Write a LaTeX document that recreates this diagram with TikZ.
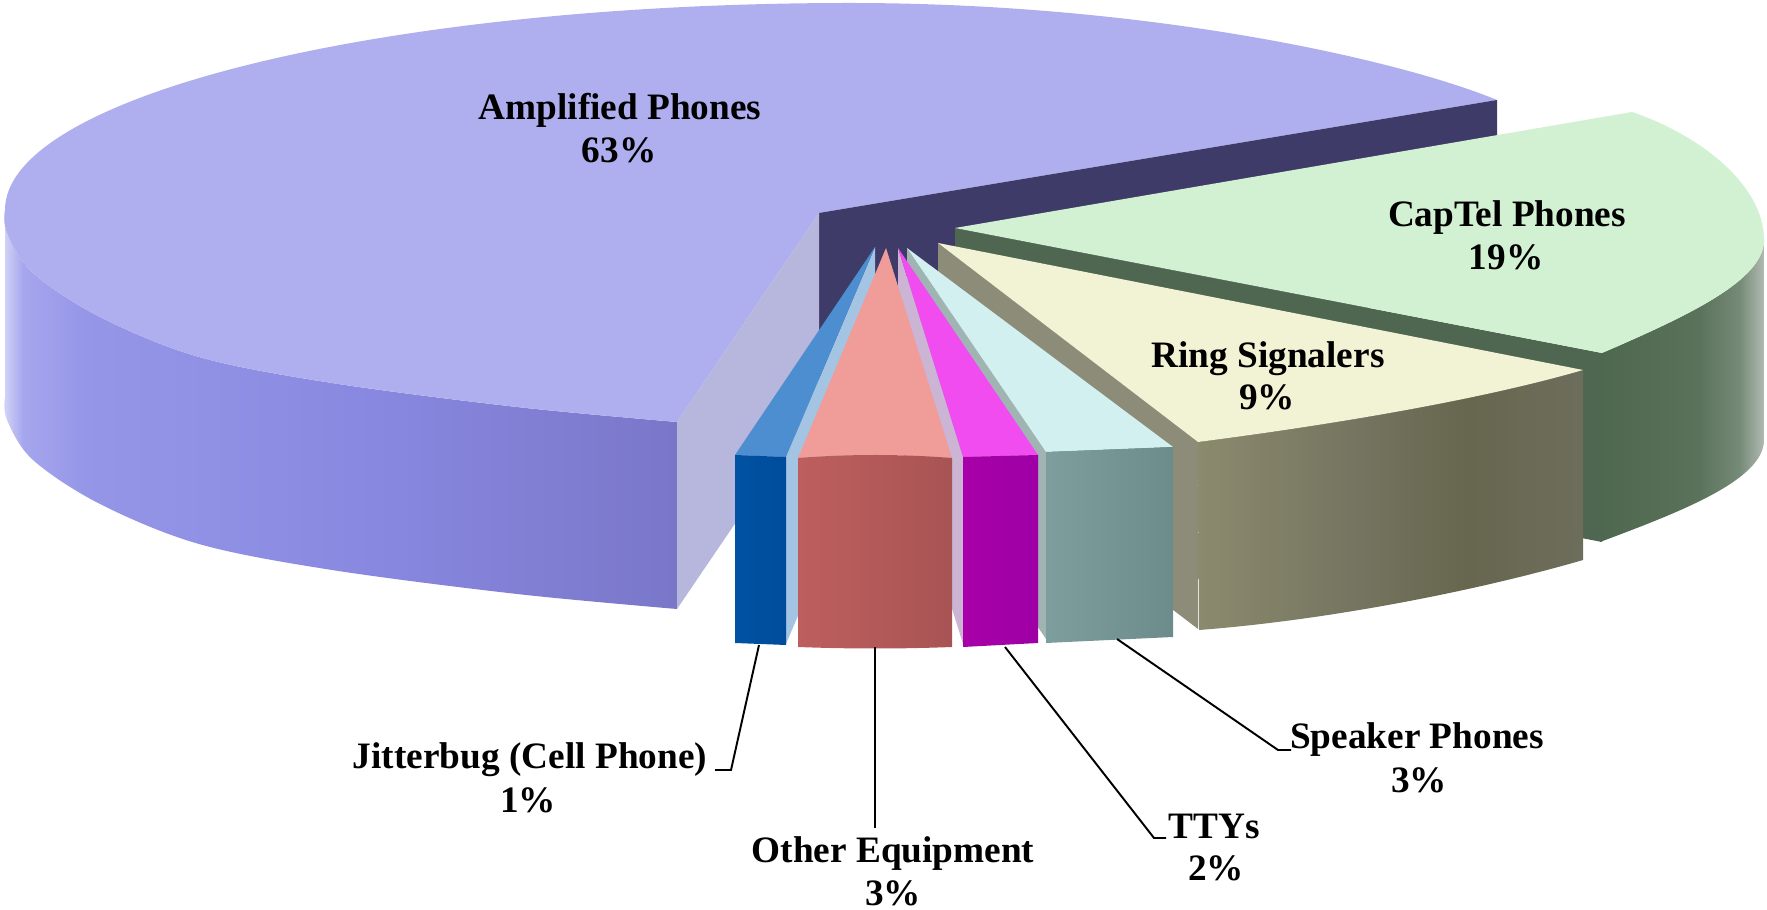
\documentclass[tikz,border=0pt]{standalone}
\usepackage{fontspec}
\setmainfont{Liberation Serif}
\definecolor{amptop}{HTML}{AFAFEF}
\definecolor{ampface}{HTML}{B7B7DD}
\definecolor{ampnavy}{HTML}{3E3B68}
\definecolor{awA}{HTML}{D6D6F8}
\definecolor{awB}{HTML}{A6A6EE}
\definecolor{awC}{HTML}{9696E8}
\definecolor{awD}{HTML}{8888E0}
\definecolor{awE}{HTML}{7A77C9}
\definecolor{captop}{HTML}{D2F0D2}
\definecolor{capside}{HTML}{4F6750}
\definecolor{cwA}{HTML}{4E674F}
\definecolor{cwB}{HTML}{5A725A}
\definecolor{cwC}{HTML}{768A78}
\definecolor{cwD}{HTML}{B0BAB0}
\definecolor{ringtop}{HTML}{F2F2D4}
\definecolor{ringside}{HTML}{8C8C78}
\definecolor{rwA}{HTML}{8C8A6D}
\definecolor{rwB}{HTML}{757561}
\definecolor{rwC}{HTML}{67674F}
\definecolor{rwD}{HTML}{6D6D5C}
\definecolor{spktop}{HTML}{D2F0F0}
\definecolor{spkL}{HTML}{7E9E9E}
\definecolor{spkR}{HTML}{6C8C8C}
\definecolor{spkside}{HTML}{A0B4B4}
\definecolor{ttytop}{HTML}{F04CF0}
\definecolor{ttyL}{HTML}{A800A8}
\definecolor{ttyR}{HTML}{9E00A6}
\definecolor{ttyside}{HTML}{CCB4D4}
\definecolor{othtop}{HTML}{F09C98}
\definecolor{othL}{HTML}{BE5E5E}
\definecolor{othR}{HTML}{A85454}
\definecolor{jittop}{HTML}{4C8ED0}
\definecolor{jitL}{HTML}{0052A2}
\definecolor{jitR}{HTML}{004C9C}
\definecolor{jitside}{HTML}{A4C4E4}
\pgfdeclarehorizontalshading{ampwallsh}{100bp}{color(0bp)=(awA); color(25bp)=(awA); color(26.5bp)=(awB); color(31bp)=(awC); color(52.5bp)=(awD); color(75bp)=(awE); color(100bp)=(awE)}
\pgfdeclarehorizontalshading{capwallsh}{100bp}{color(0bp)=(cwA); color(25bp)=(cwA); color(55bp)=(cwB); color(67.5bp)=(cwC); color(75bp)=(cwD); color(100bp)=(cwD)}
\pgfdeclarehorizontalshading{ringwallsh}{100bp}{color(0bp)=(rwA); color(25bp)=(rwA); color(45bp)=(rwB); color(60bp)=(rwC); color(75bp)=(rwD); color(100bp)=(rwD)}
\begin{document}
\begin{tikzpicture}[x=0.01cm,y=-0.01cm,
  lbl/.style={font=\fontsize{10.6}{12.2}\selectfont\bfseries, anchor=base, inner sep=0pt},
  leader/.style={line width=0.55pt, black},
  sm/.style={smooth, tension=0.55}]
\useasboundingbox (0,0) rectangle (1767,910);
% ---------- Amplified Phones ----------
\shade[shading=ampwallsh] plot[sm] coordinates {(5,210) (7,233) (33,273) (100,317) (199,357) (332,383) (517,407) (677,422)}
  -- (677,609) -- plot[sm] coordinates {(677,609) (517,594) (332,570) (199,544) (100,504) (33,460) (7,420) (5,397)} -- cycle;
\fill[amptop] (819,213) -- (677,422) -- plot[sm] coordinates {(677,422) (517,407) (332,383) (199,357) (100,317) (33,273) (7,233) (5,210)}
  .. controls (5,96) and (383,3) .. (850,3) .. controls (1150,3) and (1400,60) .. (1497,100) -- cycle;
\fill[ampnavy] (819,213) -- (1497,100) -- (1497,287) -- (819,400) -- cycle;
\fill[ampface] (819,213) -- (677,422) -- (677,609) -- (819,400) -- cycle;
% ---------- CapTel Phones ----------
\shade[shading=capwallsh] (1602,353) .. controls (1690,315) and (1764,280) .. (1764,240)
  -- (1764,440) .. controls (1764,480) and (1680,512) .. (1600,542) -- cycle;
\fill[capside] (955,228) -- (1602,353) -- (1602,542) -- (955,417) -- cycle;
\fill[captop] (955,228) -- (1632,112) .. controls (1700,135) and (1764,185) .. (1764,240)
  .. controls (1764,280) and (1690,315) .. (1602,353) -- cycle;
% ---------- Ring Signalers ----------
\fill[ringside] (938,243) -- (1198,442) -- (1198,629) -- (938,430) -- cycle;
\shade[shading=ringwallsh] (1198,442) .. controls (1330,425) and (1480,400) .. (1583,370)
  -- (1583,560) .. controls (1480,590) and (1330,620) .. (1199,630) -- cycle;
\fill[ringtop] (938,243) -- (1583,370) .. controls (1480,400) and (1330,425) .. (1198,442) -- cycle;
% ---------- small slices: side faces ----------
\fill[spkside] (907,248) -- (1046,452) -- (1046,639) -- (907,435) -- cycle;
\fill[ttyside] (898,248) -- (963,457) -- (963,644) -- (898,435) -- cycle;
\fill[jitside] (875,247) -- (786,457) -- (786,644) -- (875,434) -- cycle;
% Speaker Phones
\fill[spktop] (907,248) -- (1046,452) -- (1173,447) -- cycle;
\shade[left color=spkL, right color=spkR] (1046,452) -- (1173,447) -- (1173,637) -- (1046,643) -- cycle;
% TTYs
\fill[ttytop] (898,248) -- (963,457) -- (1038,455) -- cycle;
\shade[left color=ttyL, right color=ttyR] (963,457) -- (1038,455) -- (1038,643) -- (963,647) -- cycle;
% Other Equipment
\fill[othtop] (886,248) -- (798,458) .. controls (850,454) and (900,454) .. (952,458) -- cycle;
\shade[left color=othL, right color=othR] (798,458) .. controls (850,454) and (900,454) .. (952,458) -- (952,647) .. controls (900,649) and (850,649) .. (798,647) -- cycle;
% Jitterbug
\fill[jittop] (875,247) -- (735,455) -- (786,457) -- cycle;
\shade[left color=jitL, right color=jitR] (735,455) -- (786,457) -- (786,645) -- (735,643) -- cycle;
% ---------- labels ----------
\node[lbl] (ampA) at (620,120) {Amplified Phones};
\node[lbl] (ampB) at (619,163) {63\%};
\node[lbl] (capA) at (1507,227) {CapTel Phones};
\node[lbl] (capB) at (1506,270) {19\%};
\node[lbl] (ringA) at (1268,368) {Ring Signalers};
\node[lbl] (ringB) at (1267,410) {9\%};
\node[lbl] (spkA) at (1417,748) {Speaker Phones};
\node[lbl] (spkB) at (1419,792) {3\%};
\node[lbl] (ttyA) at (1214,838) {TTYs};
\node[lbl] (ttyB) at (1216,880) {2\%};
\node[lbl] (othA) at (893,862) {Other Equipment};
\node[lbl] (othB) at (893,905) {3\%};
\node[lbl] (jitA) at (530,768) {Jitterbug (Cell Phone)};
\node[lbl] (jitB) at (528,812) {1\%};
% ---------- leader lines ----------
\coordinate (jl0) at (759,645); \coordinate (jl1) at (731,770); \coordinate (jl2) at (715,770);
\coordinate (ol0) at (875,647); \coordinate (ol1) at (875,828);
\coordinate (tl0) at (1005,647); \coordinate (tl1) at (1154,838); \coordinate (tl2) at (1166,838);
\coordinate (sl0) at (1117,639); \coordinate (sl1) at (1278,750); \coordinate (sl2) at (1291,750);
\draw[leader] (jl0) -- (jl1) -- (jl2);
\draw[leader] (ol0) -- (ol1);
\draw[leader] (tl0) -- (tl1) -- (tl2);
\draw[leader] (sl0) -- (sl1) -- (sl2);
\end{tikzpicture}
\end{document}
